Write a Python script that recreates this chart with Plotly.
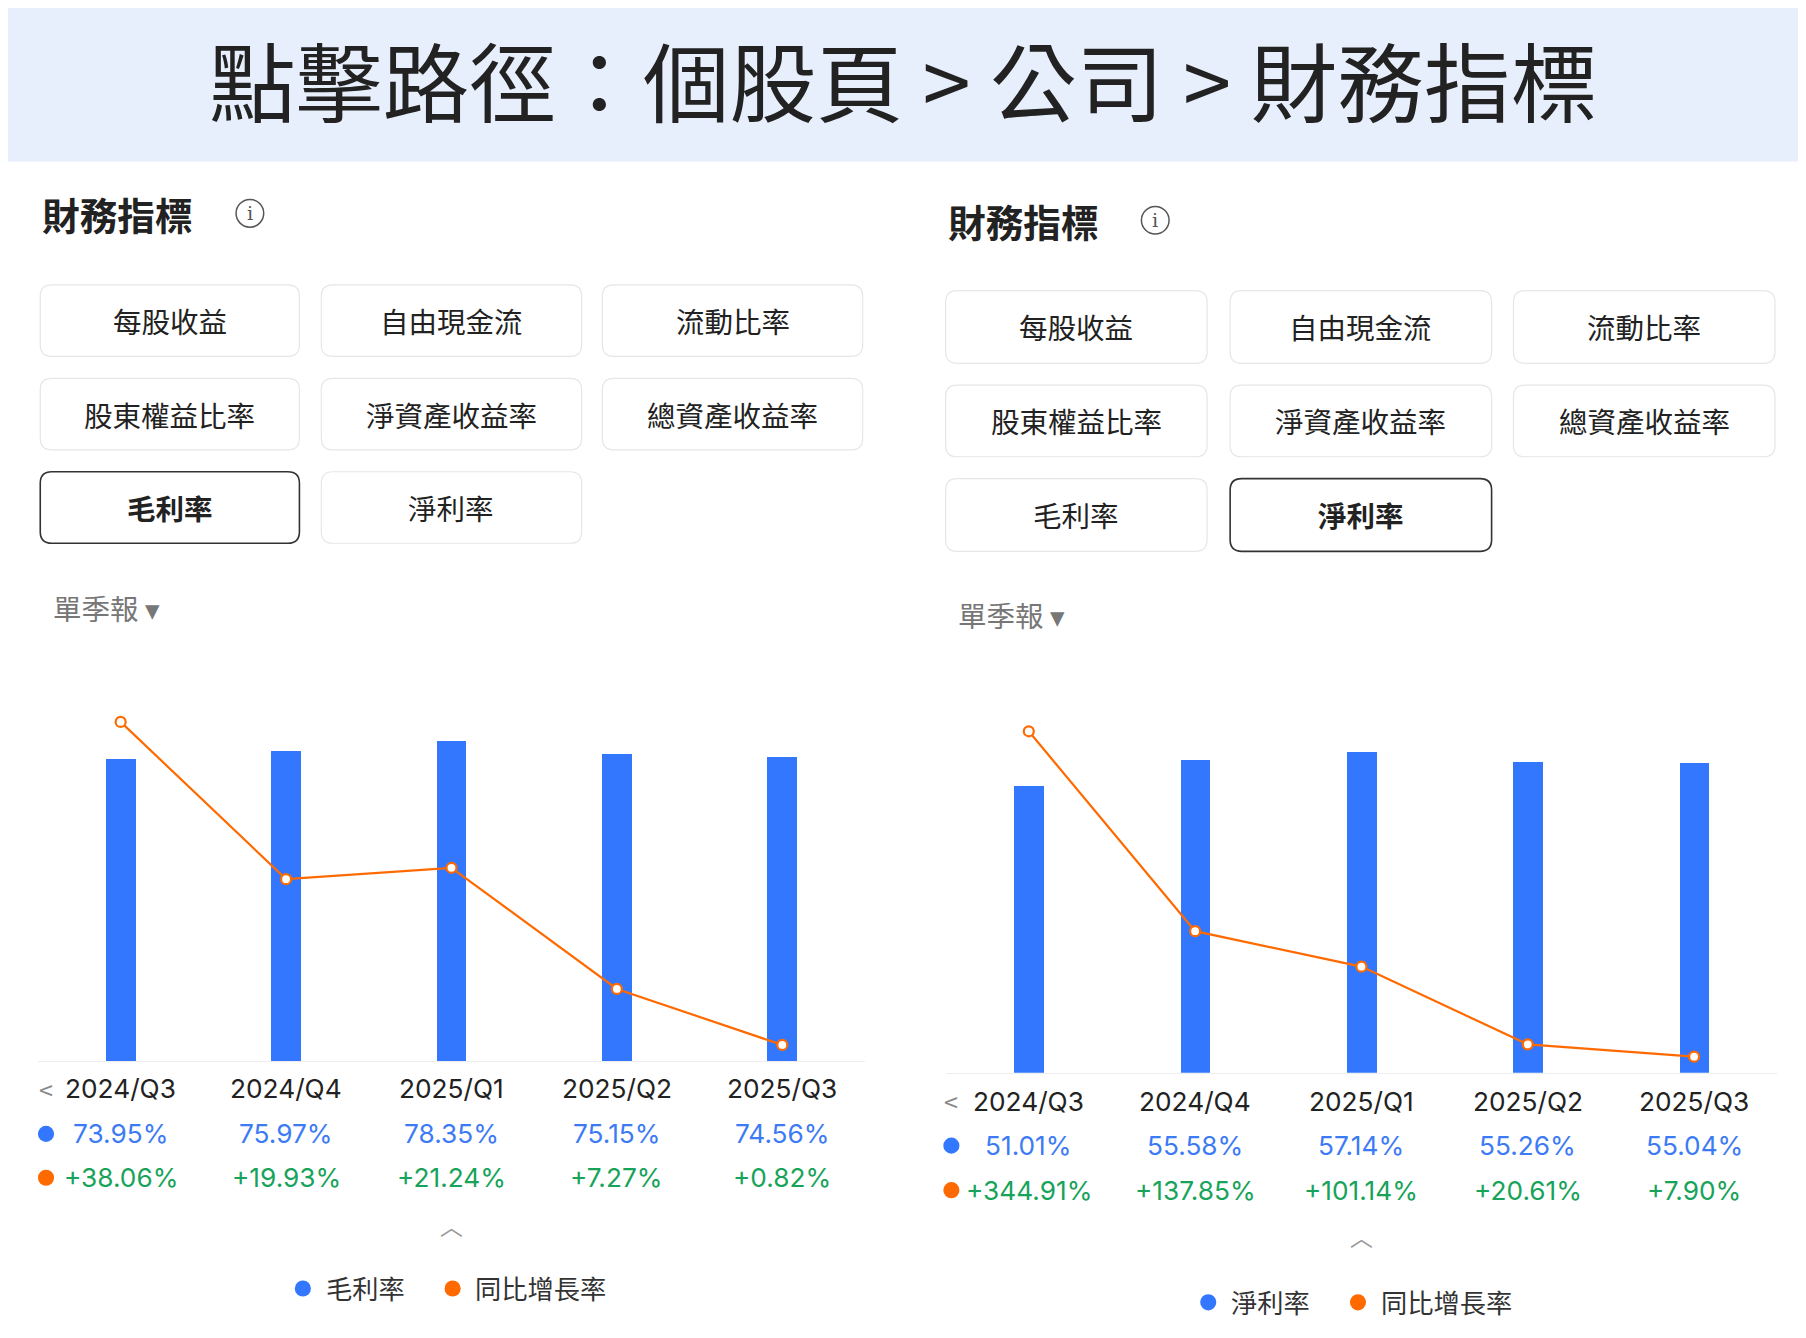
import plotly.graph_objects as go

W, H = 1790, 1322
DW, DH = 1568, 1160
S = W / DW

quarters = ["2024/Q3", "2024/Q4", "2025/Q1", "2025/Q2", "2025/Q3"]
gross_margin = [73.95, 75.97, 78.35, 75.15, 74.56]
gross_yoy = [38.06, 19.93, 21.24, 7.27, 0.82]
net_margin = [51.01, 55.58, 57.14, 55.26, 55.04]
net_yoy = [344.91, 137.85, 101.14, 20.61, 7.90]
buttons = ["每股收益", "自由現金流", "流動比率", "股東權益比率", "淨資產收益率", "總資產收益率", "毛利率", "淨利率"]

FONT = "Noto Sans CJK TC"
BLUE = "#3377ff"
ORANGE = "#ff6a00"
GREEN = "#17a35a"
VBLUE = "#3d7bf5"

def px(x): return (x - 7) / (DW - 14)
def py(y): return 1 - (y - 7) / (DH - 14)
def fs(v): return v * S

fig = go.Figure()
shapes, ann = [], []

def A(**kw):
    kw.setdefault("showarrow", False)
    kw.setdefault("xanchor", "center")
    kw.setdefault("yanchor", "middle")
    kw.setdefault("xref", "paper")
    kw.setdefault("yref", "paper")
    ann.append(kw)

shapes.append(dict(type="rect", xref="paper", yref="paper", x0=-0.01, x1=1.01, y0=py(140), y1=1.01,
                   fillcolor="#e8effc", line=dict(width=0), layer="below"))
A(text="點擊路徑：個股頁 > 公司 > 財務指標", x=px(784), y=py(68),
  font=dict(size=fs(76), color="#222", family=FONT))

def rrect(x0, y0, x1, y1, r, color, width):
    X0, X1 = px(x0), px(x1)
    Y0, Y1 = py(y0), py(y1)
    rx, ry = r / (DW - 14), r / (DH - 14)
    p = (f"M{X0+rx},{Y0} L{X1-rx},{Y0} Q{X1},{Y0} {X1},{Y0-ry} L{X1},{Y1+ry} Q{X1},{Y1} {X1-rx},{Y1} "
         f"L{X0+rx},{Y1} Q{X0},{Y1} {X0},{Y1+ry} L{X0},{Y0-ry} Q{X0},{Y0} {X0+rx},{Y0} Z")
    return dict(type="path", path=p, xref="paper", yref="paper", line=dict(color=color, width=width), fillcolor="white")

panels = [
    dict(x0=35, dy=0, cols=[(35, 260), (279, 505), (523, 749)], rows=[(247, 309), (328, 390), (409, 471)],
         sel="毛利率", bars=gross_margin, yoy=gross_yoy, name="毛利率", xa="x", ya="y", ya2="y2",
         ptop=600, pbot=920, brange=[0, 90.4], lrange=[-1.06, 41.5], xdom=(33, 751)),
    dict(x0=821, dy=6, cols=[(821, 1048), (1068, 1295), (1314, 1541)], rows=[(252, 315), (334, 396), (415, 478)],
         sel="淨利率", bars=net_margin, yoy=net_yoy, name="淨利率", xa="x2", ya="y3", ya2="y4",
         ptop=610, pbot=930, brange=[0, 65.6], lrange=[-8.8, 373.6], xdom=(821, 1543)),
]

layout_axes = {}
for i, P in enumerate(panels):
    dy = P["dy"]
    A(text="<b>財務指標</b>", x=px(P["x0"]), y=py(185 + dy), xanchor="left",
      font=dict(size=fs(33), color="#222", family=FONT))
    cx = P["x0"] + 182
    shapes.append(dict(type="circle", xref="paper", yref="paper", x0=px(cx - 12), x1=px(cx + 12),
                       y0=py(185 + dy + 12), y1=py(185 + dy - 12), line=dict(color="#555", width=1.5)))
    A(text="i", x=px(cx), y=py(185 + dy), font=dict(size=fs(17), color="#555", family="DejaVu Serif"))
    for k, b in enumerate(buttons):
        r, c = divmod(k, 3)
        x0, x1 = P["cols"][c]
        y0, y1 = P["rows"][r]
        sel = b == P["sel"]
        shapes.append(rrect(x0, y0, x1, y1, 10, "#333" if sel else "#e6e6e6", 1.6 if sel else 1.2))
        A(text=f"<b>{b}</b>" if sel else b, x=px((x0 + x1) / 2), y=py((y0 + y1) / 2),
          font=dict(size=fs(25), color="#222", family=FONT))
    A(text="單季報 ▾", x=px(P["x0"] + 9), y=py(527 + dy), xanchor="left",
      font=dict(size=fs(25), color="#777", family=FONT))

    xa, ya, ya2 = P["xa"], P["ya"], P["ya2"]
    fig.add_trace(go.Bar(x=quarters, y=P["bars"], marker=dict(color=BLUE, line=dict(width=0)),
                         width=0.18, xaxis=xa, yaxis=ya, showlegend=False))
    fig.add_trace(go.Scatter(x=quarters, y=P["yoy"], mode="lines+markers", xaxis=xa, yaxis=ya2,
                             line=dict(color=ORANGE, width=2.2),
                             marker=dict(size=10, color="white", line=dict(color=ORANGE, width=2.2)),
                             showlegend=False))
    dom_x = [px(P["xdom"][0]), px(P["xdom"][1])]
    dom_y = [py(P["pbot"]), py(P["ptop"])]
    xkey = "xaxis" if xa == "x" else "xaxis2"
    ykey = "yaxis" if ya == "y" else "yaxis" + ya[1:]
    y2key = "yaxis" + ya2[1:]
    layout_axes[xkey] = dict(domain=dom_x, anchor=ya, showticklabels=False, showgrid=False, zeroline=False,
                             showline=True, linecolor="#eeeeee", linewidth=1, ticks="", range=[-0.5, 4.5])
    layout_axes[ykey] = dict(domain=dom_y, anchor=xa, range=P["brange"], visible=False, showgrid=False)
    layout_axes[y2key] = dict(domain=dom_y, anchor=xa, overlaying=ya, range=P["lrange"], visible=False,
                              showgrid=False, side="right")

    rows_y = [944 + dy * 1.8, 983 + dy * 1.7, 1021 + dy * 1.8]
    xl = P["x0"] + 5
    A(text="<", x=px(xl), y=py(rows_y[0]), font=dict(size=fs(22), color="#888", family=FONT))
    for col, yy in [(BLUE, rows_y[1]), (ORANGE, rows_y[2])]:
        shapes.append(dict(type="circle", xref="paper", yref="paper", x0=px(xl - 7), x1=px(xl + 7),
                           y0=py(yy + 7), y1=py(yy - 7), fillcolor=col, line=dict(width=0)))
    for q, b, g in zip(quarters, P["bars"], P["yoy"]):
        A(text=q, x=q, xref=xa, y=py(rows_y[0]), font=dict(size=fs(23), color="#222", family="Inter"))
        A(text=f"{b:.2f}%", x=q, xref=xa, y=py(rows_y[1]), font=dict(size=fs(23), color=VBLUE, family="Inter"))
        A(text=f"+{g:.2f}%", x=q, xref=xa, y=py(rows_y[2]), font=dict(size=fs(23), color=GREEN, family="Inter"))
    A(text="︿", x=quarters[2], xref=xa, y=py(1062 + dy * 1.7), font=dict(size=fs(20), color="#999", family=FONT))
    ly = 1117 + dy * 2
    lx = P["x0"] + 228
    for off, col, txt in [(0, BLUE, P["name"]), (130, ORANGE, "同比增長率")]:
        shapes.append(dict(type="circle", xref="paper", yref="paper", x0=px(lx + off - 7), x1=px(lx + off + 7),
                           y0=py(ly + 7), y1=py(ly - 7), fillcolor=col, line=dict(width=0)))
        A(text=txt, x=px(lx + off + 18), y=py(ly), xanchor="left",
          font=dict(size=fs(23), color="#333", family=FONT))

fig.update_layout(width=W, height=H, margin=dict(l=0, r=0, t=0, b=0), paper_bgcolor="white",
                  plot_bgcolor="rgba(0,0,0,0)", shapes=shapes, annotations=ann, bargap=0,
                  font=dict(family=FONT), **layout_axes)
fig.write_html("out.html")
